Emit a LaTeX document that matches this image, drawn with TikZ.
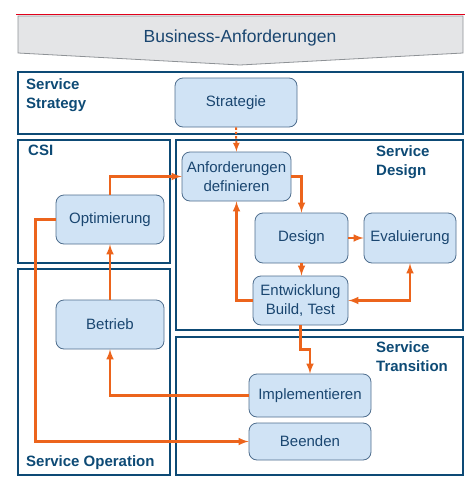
\documentclass[tikz,border=0pt]{standalone}
\usepackage{fontspec}
\setmainfont{Liberation Sans}
\usepackage{tikz}
\definecolor{framecol}{HTML}{0D4A75}
\definecolor{nodefill}{HTML}{D0E3F5}
\definecolor{nodeline}{HTML}{4F6E8E}
\definecolor{textcol}{HTML}{1A4670}
\definecolor{flowcol}{HTML}{EC641C}
\definecolor{bannerfill}{HTML}{E4E5E7}
\definecolor{bannerline}{HTML}{8E9296}
\definecolor{topline}{HTML}{E2001A}
\tikzset{
    phase/.style={draw=framecol, line width=2.7pt},
    phaselabel/.style={font=\bfseries\fontsize{15}{19}\selectfont, text=framecol, align=left, inner sep=0pt},
    proc/.style={draw=nodeline, fill=nodefill, rounded corners=8pt, line width=0.8pt, text=textcol, font=\fontsize{15}{19}\selectfont, align=center, inner sep=0pt},
    flow/.style={draw=flowcol, line width=2.4pt, ->, >=latex},
}

\begin{document}
\begin{tikzpicture}[x=1pt, y=-1pt]
        \useasboundingbox (0, 0) rectangle (475, 488);
        %draw red line and banner
        \draw[topline, line width=0.8pt] (16, 14) -- (465, 14);
        \draw[fill=bannerfill, draw=bannerline, line width=0.8pt] (18, 16) -- (463, 16) -- (463, 53) -- (240, 65) -- (18, 53) -- cycle;
        \node[text=textcol, font=\fontsize{17.5}{20}\selectfont] (banner) at (240, 38) {Business-Anforderungen};
        %draw phase frames
        \draw[phase] (18, 72) rectangle (463, 134);
        \draw[phase] (18, 140) rectangle (170, 263);
        \draw[phase] (176, 140) rectangle (463, 330);
        \draw[phase] (18, 269) rectangle (170, 475);
        \draw[phase] (176, 337) rectangle (463, 475);
        %label phase frames
        \node[phaselabel, anchor=north west] (lstrat) at (26, 78) {Service\\Strategy};
        \node[phaselabel, anchor=north west] (lcsi) at (28, 145) {CSI};
        \node[phaselabel, anchor=north west] (ldesign) at (376, 145) {Service\\Design};
        \node[phaselabel, anchor=north west] (ltrans) at (376, 341) {Service\\Transition};
        \node[phaselabel, anchor=south west] (loper) at (26, 470) {Service Operation};
        %draw process nodes
        \node[proc, minimum width=122pt, minimum height=49pt] (strat) at (236, 102.5) {Strategie};
        \node[proc, minimum width=109pt, minimum height=49pt] (anf) at (236.5, 176.5) {Anforderungen\\definieren};
        \node[proc, minimum width=108pt, minimum height=49pt] (opt) at (110, 219.5) {Optimierung};
        \node[proc, minimum width=93pt, minimum height=50pt] (design) at (301.5, 238) {Design};
        \node[proc, minimum width=92pt, minimum height=50pt] (eval) at (410, 238) {Evaluierung};
        \node[proc, minimum width=95pt, minimum height=49pt] (entw) at (300.5, 300.5) {Entwicklung\\Build, Test};
        \node[proc, minimum width=108pt, minimum height=49pt] (betr) at (110, 324.5) {Betrieb};
        \node[proc, minimum width=122pt, minimum height=43pt] (impl) at (310, 395.5) {Implementieren};
        \node[proc, minimum width=122pt, minimum height=37pt] (been) at (310, 441.5) {Beenden};
        %draw flows between nodes
        \draw[flow, dotted, line width=2pt] (strat.south) -- (anf.north);
        \draw[flow] (opt.north) |- (anf.west);
        \draw[flow] (opt.west) -- ++(-20, 0) |- (been.west);
        \draw[flow] (betr.north) -- (opt.south);
        \draw[flow] (impl.west) -| (betr.south);
        \draw[flow] (anf.east) -| (design.north);
        \draw[flow] (design.east) -- (eval.west);
        \draw[flow] (design.south) -- (design.south |- entw.north);
        \draw[flow] (entw.west) -| (anf.south);
        \draw[flow, <->] (eval.south) |- (entw.east);
        \draw[flow] (entw.south) -- ++(0, 24) -| (impl.north);
    \end{tikzpicture}
\end{document}
